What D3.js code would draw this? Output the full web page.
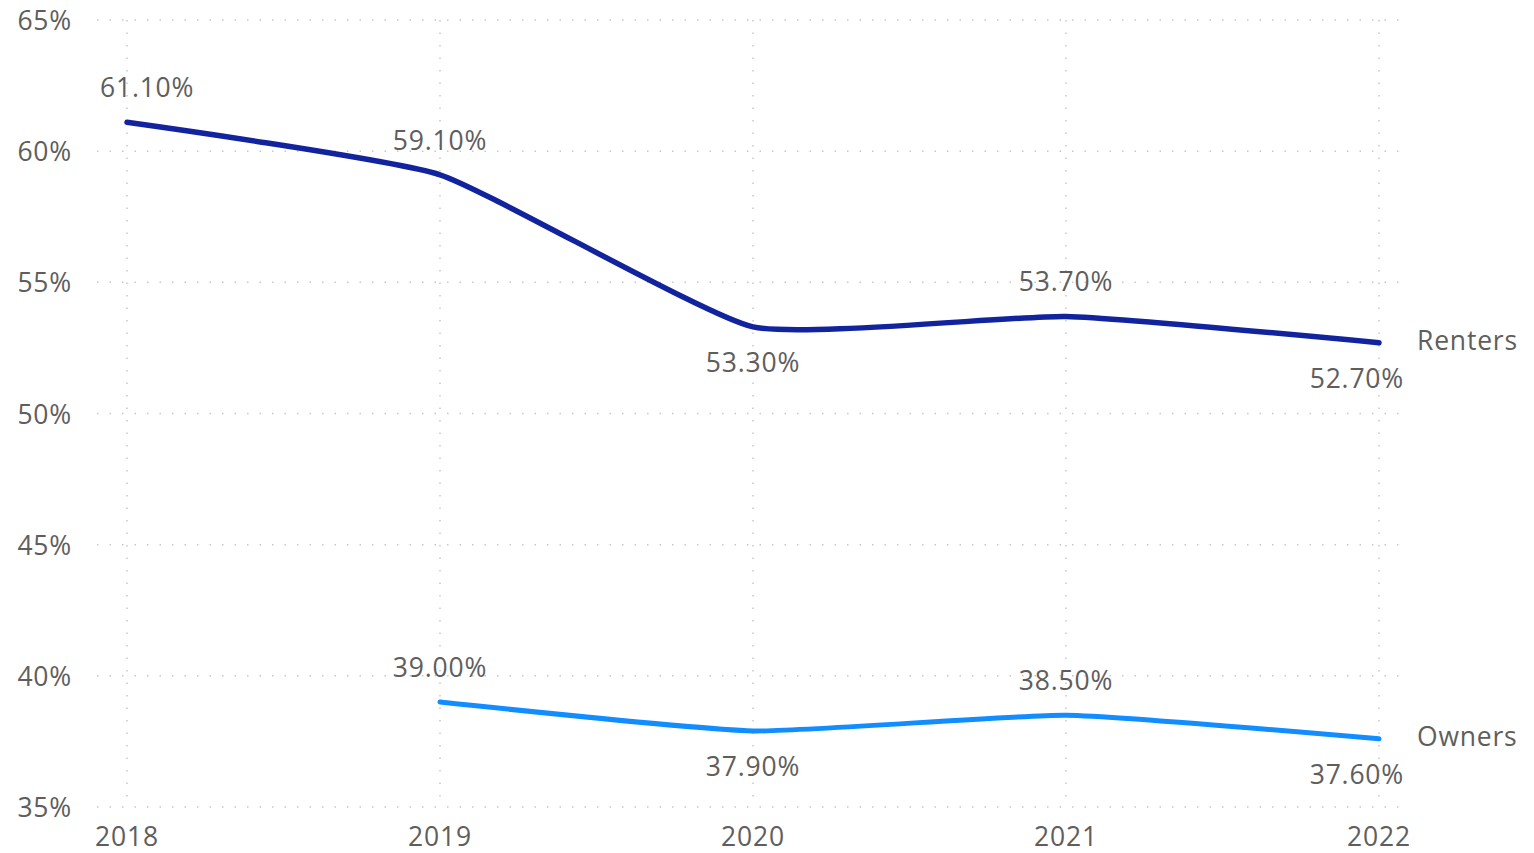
<!DOCTYPE html>
<html><head><meta charset="utf-8">
<script src="https://cdn.jsdelivr.net/npm/d3@7"></script>
<style>body{margin:0;background:#fff}svg{display:block}text{font-family:"Open Sans",sans-serif;fill:#605E5C;letter-spacing:0.8px}</style>
</head><body><svg id="c" width="1534" height="853"></svg>
<script>
const years = ["2018","2019","2020","2021","2022"];
const renters = [61.1, 59.1, 53.3, 53.7, 52.7];
const owners = [null, 39.0, 37.9, 38.5, 37.6];
const yTicks = [35, 40, 45, 50, 55, 60, 65];
const rentersLabelPos = ["above","above","below","above","below"];
const ownersLabelPos = [null,"above","below","above","below"];

const svg = d3.select("#c");
const x = d3.scalePoint().domain(years).range([127, 1379]);
const y = d3.scaleLinear().domain([35, 65]).range([807, 20]);
const plotL = 97, plotR = 1405;
const fs = 26.5;

svg.append("g").selectAll("line").data(yTicks).join("line")
  .attr("x1", plotL).attr("x2", plotR)
  .attr("y1", d => y(d)).attr("y2", d => y(d))
  .attr("stroke", "#c8c8c8").attr("stroke-width", 1.5).attr("stroke-dasharray", "1.5,11");
svg.append("g").selectAll("line").data(years).join("line")
  .attr("x1", d => x(d)).attr("x2", d => x(d))
  .attr("y1", y(65)).attr("y2", y(35))
  .attr("stroke", "#c8c8c8").attr("stroke-width", 1.5).attr("stroke-dasharray", "1.5,11");

svg.append("g").selectAll("text").data(yTicks).join("text")
  .attr("x", 72).attr("y", d => y(d)).attr("text-anchor", "end")
  .attr("dominant-baseline", "central").attr("font-size", fs)
  .text(d => d + "%");
svg.append("g").selectAll("text").data(years).join("text")
  .attr("x", d => x(d)).attr("y", 836).attr("text-anchor", "middle")
  .attr("dominant-baseline", "central").attr("font-size", fs)
  .text(d => d);

function drawSeries(vals, pos, color, name, sw) {
  const pts = years.map((yr, i) => ({yr, v: vals[i], p: pos[i]})).filter(d => d.v != null);
  const line = d3.line().x(d => x(d.yr)).y(d => y(d.v)).curve(d3.curveCardinal.tension(0.55));
  svg.append("path").datum(pts).attr("d", line).attr("fill", "none")
    .attr("stroke", color).attr("stroke-width", sw).attr("stroke-linecap", "round").attr("stroke-linejoin", "round");
  const g = svg.append("g");
  pts.forEach(d => {
    const t = g.append("text").attr("font-size", fs).attr("dominant-baseline", "central")
      .attr("y", y(d.v) + (d.p === "above" ? -35 : 35))
      .text(d.v.toFixed(2) + "%");
    const w = t.node().getComputedTextLength();
    let cx = x(d.yr) - w / 2;
    cx = Math.max(plotL + 3, Math.min(plotR - 1 - w, cx));
    t.attr("x", cx);
  });
  const last = pts[pts.length - 1];
  svg.append("text").attr("x", 1417).attr("y", y(last.v) - 3)
    .attr("dominant-baseline", "central").attr("font-size", fs).text(name);
}
drawSeries(renters, rentersLabelPos, "#12239E", "Renters", 5.5);
drawSeries(owners, ownersLabelPos, "#118DFF", "Owners", 5);
</script></body></html>
